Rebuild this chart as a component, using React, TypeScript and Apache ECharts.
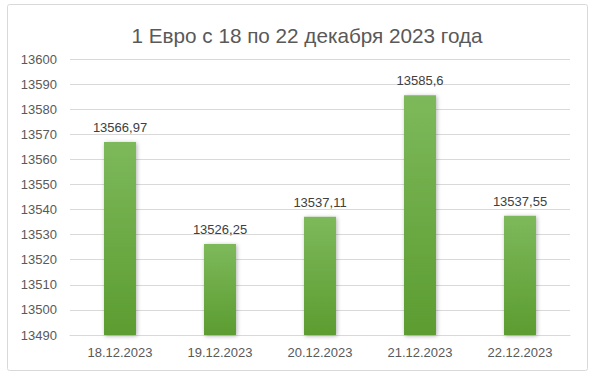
import React, { useEffect, useRef } from "react";
import * as echarts from "echarts";

const categories = ["18.12.2023", "19.12.2023", "20.12.2023", "21.12.2023", "22.12.2023"];
const values = [13566.97, 13526.25, 13537.11, 13585.6, 13537.55];
const labels = ["13566,97", "13526,25", "13537,11", "13585,6", "13537,55"];
const yMin = 13490;
const yMax = 13600;
const yStep = 10;
const titleText = "1 Евро с 18 по 22 декабря 2023 года";

const FONT = "'Liberation Sans', Arial, sans-serif";

export default function App() {
  const ref = useRef<HTMLDivElement>(null);
  useEffect(() => {
    if (!ref.current) return;
    const chart = echarts.init(ref.current, undefined, { renderer: "svg" });
    chart.setOption({
      animation: false,
      backgroundColor: "#ffffff",
      textStyle: { fontFamily: FONT },
      graphic: [
        {
          type: "rect",
          shape: { x: 7.5, y: 4.5, width: 580, height: 366, r: 2 },
          style: { fill: "none", stroke: "#d9d9d9", lineWidth: 1 },
          silent: true,
        },
        {
          type: "text",
          x: 307,
          y: 35,
          style: {
            text: titleText,
            fontFamily: FONT,
            fontSize: 20.7,
            fill: "#595959",
            textAlign: "center",
            textVerticalAlign: "middle",
          },
        },
      ],
      grid: { left: 70, right: 30, top: 59, bottom: 45, containLabel: false },
      xAxis: {
        type: "category",
        data: categories,
        axisLine: { show: true, lineStyle: { color: "#d9d9d9" } },
        axisTick: { show: false },
        axisLabel: { color: "#595959", fontSize: 13, margin: 11, fontFamily: FONT },
      },
      yAxis: {
        type: "value",
        min: yMin,
        max: yMax,
        interval: yStep,
        axisLine: { show: false },
        axisTick: { show: false },
        splitLine: { lineStyle: { color: "#d9d9d9" } },
        axisLabel: {
          color: "#595959",
          fontSize: 13,
          margin: 13,
          fontFamily: FONT,
          formatter: (v: number) => String(v),
        },
      },
      series: [
        {
          type: "bar",
          data: values,
          barWidth: "32%",
          itemStyle: {
            color: new echarts.graphic.LinearGradient(0, 0, 0, 1, [
              { offset: 0, color: "#7db95b" },
              { offset: 1, color: "#5c9c30" },
            ]),
            shadowColor: "rgba(0,0,0,0.3)",
            shadowBlur: 4,
            shadowOffsetX: 1,
            shadowOffsetY: 1,
          },
          label: {
            show: true,
            position: "top",
            distance: 8,
            color: "#404040",
            fontSize: 13,
            fontFamily: FONT,
            formatter: (p: any) => labels[p.dataIndex],
          },
        },
      ],
    });
    return () => chart.dispose();
  }, []);
  return (
    <div
      ref={ref}
      style={{ position: "fixed", left: 0, top: 0, width: 600, height: 380 }}
    />
  );
}
